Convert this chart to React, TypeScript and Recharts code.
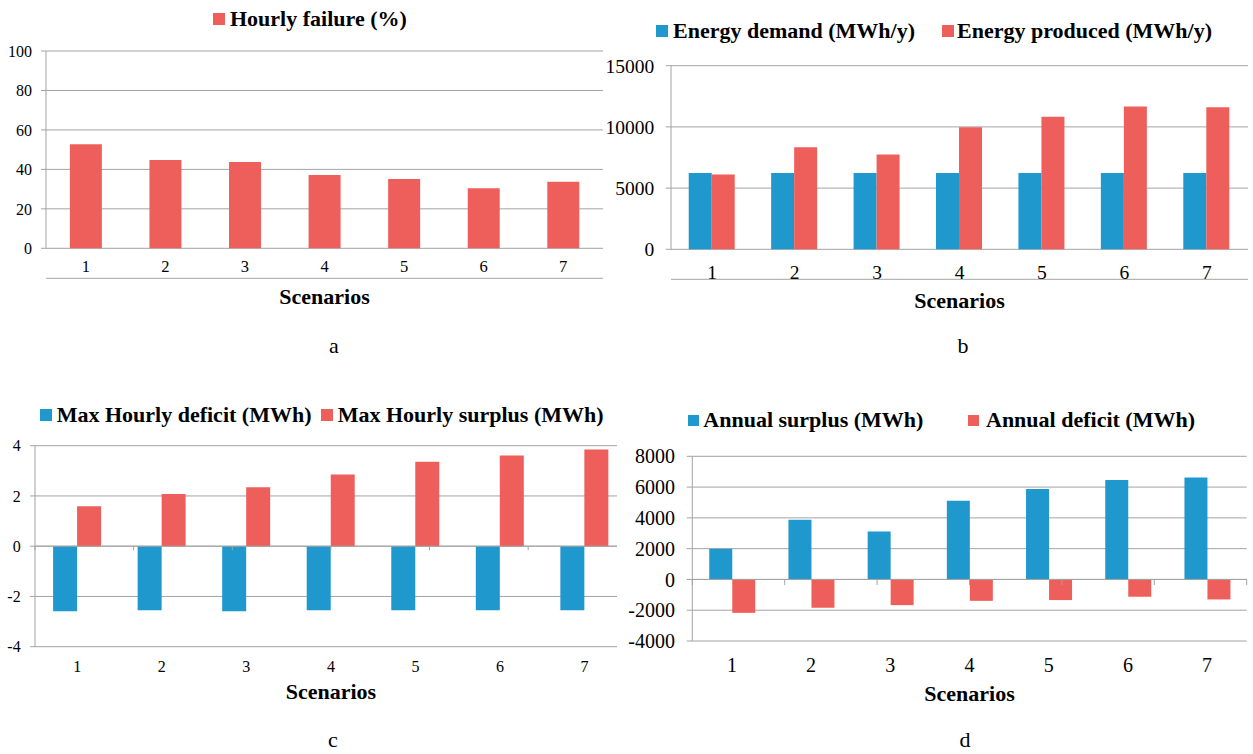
import React from 'react';
import { BarChart, Bar, XAxis, YAxis, CartesianGrid, ReferenceLine } from 'recharts';

const scenarios = ['1', '2', '3', '4', '5', '6', '7'];

const hourlyFailure = [52.8, 44.7, 43.7, 37.1, 35.1, 30.4, 33.7];

const energyDemand = [6230, 6230, 6230, 6230, 6230, 6230, 6230];
const energyProduced = [6110, 8340, 7750, 9980, 10820, 11660, 11600];

const maxHourlyDeficit = [-2.59, -2.55, -2.59, -2.55, -2.55, -2.55, -2.55];
const maxHourlySurplus = [1.59, 2.08, 2.35, 2.85, 3.36, 3.61, 3.85];

const annualSurplus = [1990, 3880, 3120, 5110, 5870, 6460, 6630];
const annualDeficit = [-2170, -1840, -1670, -1390, -1340, -1130, -1300];

const ticksA = [0, 20, 40, 60, 80, 100];
const ticksB = [0, 5000, 10000, 15000];
const ticksC = [-4, -2, 0, 2, 4];
const ticksD = [-4000, -2000, 0, 2000, 4000, 6000, 8000];

// category boundaries, where the tick marks sit
const edges = scenarios.map((_, i) => i).concat(scenarios.length);

const dataA = scenarios.map((name, i) => ({ name, failure: hourlyFailure[i] }));
const dataB = scenarios.map((name, i) => ({ name, demand: energyDemand[i], produced: energyProduced[i] }));
const dataC = scenarios.map((name, i) => ({ name, deficit: maxHourlyDeficit[i], surplus: maxHourlySurplus[i] }));
const dataD = scenarios.map((name, i) => ({ name, surplus: annualSurplus[i], deficit: annualDeficit[i] }));

const FONT = '"Liberation Serif", "Times New Roman", serif';
const RED = '#EE5F5B';
const BLUE = '#1F98CD';
const GRID = '#A3A3A3';
const TEXT = '#000';

type LegendItem = { label: string; color: string; sq: number; sqLeft: number; textLeft: number };

function ChartLegend({ top, items }: { top: number; items: LegendItem[] }) {
  return (
    <>
      {items.map((it) => (
        <React.Fragment key={it.label}>
          <div
            style={{
              position: 'absolute',
              left: it.sqLeft,
              top: top + 11 - it.sq / 2,
              width: it.sq,
              height: it.sq,
              background: it.color,
            }}
          />
          <div
            style={{
              position: 'absolute',
              left: it.textLeft,
              top,
              fontFamily: FONT,
              fontWeight: 'bold',
              fontSize: 22,
              lineHeight: '22px',
              color: '#000',
              whiteSpace: 'nowrap',
            }}
          >
            {it.label}
          </div>
        </React.Fragment>
      ))}
    </>
  );
}

function PanelLetter({ x, y, text }: { x: number; y: number; text: string }) {
  return (
    <div
      style={{
        position: 'absolute',
        left: x - 20,
        width: 40,
        top: y - 13.4,
        textAlign: 'center',
        fontFamily: FONT,
        fontSize: 22,
        lineHeight: '22px',
        color: '#000',
      }}
    >
      {text}
    </div>
  );
}

const scenLabel = (offset: number) => ({
  value: 'Scenarios',
  position: 'bottom' as const,
  offset,
  fill: '#000',
  fontSize: 22,
  fontWeight: 'bold',
  fontFamily: FONT,
});

export default function App() {
  return (
    <div style={{ position: 'absolute', left: 0, top: 0, width: 1253, height: 754, background: '#fff', overflow: 'hidden' }}>
      {/* a - hourly failure */}
      <ChartLegend top={8.4} items={[{ label: 'Hourly failure (%)', color: RED, sq: 12, sqLeft: 213, textLeft: 230 }]} />
      <div style={{ position: 'absolute', left: 0, top: 0 }}>
        <BarChart width={620} height={330} data={dataA} margin={{ top: 51, right: 17, bottom: 50.7, left: 0 }} barCategoryGap="30%">
          <CartesianGrid vertical={false} stroke={GRID} xAxisId="cat" />
          <XAxis xAxisId="edge" type="number" domain={[0, 7]} ticks={edges} tick={false} height={1} stroke={GRID} tickSize={5} allowDataOverflow />
          <XAxis
            xAxisId="cat"
            dataKey="name"
            height={30}
            axisLine={false}
            tickLine={false}
            tickSize={0}
            tickMargin={12.2}
            tick={{ fill: TEXT, fontSize: 16.5, fontFamily: FONT }}
            label={scenLabel(10.3)}
          />
          <YAxis domain={[0, 100]} ticks={ticksA} width={46} stroke={GRID} tickSize={5} tickMargin={9} tick={{ fill: TEXT, fontSize: 16, fontFamily: FONT }} />
          <Bar xAxisId="cat" dataKey="failure" fill={RED} isAnimationActive={false} />
        </BarChart>
      </div>
      <PanelLetter x={334} y={348} text="a" />

      {/* b - energy demand vs produced */}
      <ChartLegend
        top={20.1}
        items={[
          { label: 'Energy demand (MWh/y)', color: BLUE, sq: 11.5, sqLeft: 656, textLeft: 673 },
          { label: 'Energy produced (MWh/y)', color: RED, sq: 11.5, sqLeft: 942, textLeft: 957 },
        ]}
      />
      <div style={{ position: 'absolute', left: 600, top: 0 }}>
        <BarChart width={653} height={330} data={dataB} margin={{ top: 65.7, right: 5, bottom: 49.7, left: 0 }} barCategoryGap="21.5%" barGap={0}>
          <CartesianGrid vertical={false} stroke={GRID} xAxisId="cat" />
          <XAxis xAxisId="edge" type="number" domain={[0, 7]} ticks={edges} tick={false} height={1} stroke={GRID} tickSize={5.5} allowDataOverflow />
          <XAxis
            xAxisId="cat"
            dataKey="name"
            height={30}
            axisLine={false}
            tickLine={false}
            tickSize={0}
            tickMargin={15.4}
            tick={{ fill: TEXT, fontSize: 19.5, fontFamily: FONT }}
            label={scenLabel(13)}
          />
          <YAxis domain={[0, 15000]} ticks={ticksB} width={71} stroke={GRID} tickSize={5.3} tickMargin={11.5} tick={{ fill: TEXT, fontSize: 19.5, fontFamily: FONT }} />
          <Bar xAxisId="cat" dataKey="demand" fill={BLUE} isAnimationActive={false} />
          <Bar xAxisId="cat" dataKey="produced" fill={RED} isAnimationActive={false} />
        </BarChart>
      </div>
      <PanelLetter x={963} y={348} text="b" />

      {/* c - max hourly deficit / surplus */}
      <ChartLegend
        top={403.7}
        items={[
          { label: 'Max Hourly deficit (MWh)', color: BLUE, sq: 11.7, sqLeft: 40, textLeft: 56.7 },
          { label: 'Max Hourly surplus (MWh)', color: RED, sq: 11.7, sqLeft: 321, textLeft: 337.7 },
        ]}
      />
      <div style={{ position: 'absolute', left: 0, top: 390, width: 617, height: 330, overflow: 'hidden' }}>
        <BarChart width={640} height={330} data={dataC} margin={{ top: 55.7, right: 13.2, bottom: 43.3, left: 0 }} barCategoryGap="21.4%" barGap={0}>
          <CartesianGrid vertical={false} stroke={GRID} xAxisId="cat" />
          <XAxis xAxisId="edge" type="number" domain={[0, 7]} hide allowDataOverflow />
          <XAxis
            xAxisId="cat"
            dataKey="name"
            height={30}
            axisLine={false}
            tickLine={false}
            tickSize={0}
            tickMargin={14}
            tick={{ fill: TEXT, fontSize: 16, fontFamily: FONT }}
            label={scenLabel(6.6)}
          />
          <YAxis domain={[-4, 4]} ticks={ticksC} width={35} stroke={GRID} tickSize={5} tickMargin={9.3} tick={{ fill: TEXT, fontSize: 16, fontFamily: FONT }} />
          <ReferenceLine xAxisId="cat" y={0} stroke={GRID} />
          {edges.map((e) => (
            <ReferenceLine key={e} xAxisId="edge" segment={[{ x: e, y: 0 }, { x: e, y: -0.16 }]} stroke={GRID} />
          ))}
          <Bar xAxisId="cat" dataKey="deficit" fill={BLUE} isAnimationActive={false} />
          <Bar xAxisId="cat" dataKey="surplus" fill={RED} isAnimationActive={false} />
        </BarChart>
      </div>
      <PanelLetter x={333} y={742} text="c" />

      {/* d - annual surplus / deficit */}
      <ChartLegend
        top={409.4}
        items={[
          { label: 'Annual surplus (MWh)', color: BLUE, sq: 11, sqLeft: 687.7, textLeft: 703.3 },
          { label: 'Annual deficit (MWh)', color: RED, sq: 11, sqLeft: 968, textLeft: 986 },
        ]}
      />
      <div style={{ position: 'absolute', left: 618, top: 390 }}>
        <BarChart width={635} height={330} data={dataD} margin={{ top: 66.3, right: 6.3, bottom: 49, left: 0 }} barCategoryGap="21.4%" barGap={0}>
          <CartesianGrid vertical={false} stroke={GRID} xAxisId="cat" />
          <XAxis xAxisId="edge" type="number" domain={[0, 7]} hide allowDataOverflow />
          <XAxis
            xAxisId="cat"
            dataKey="name"
            height={30}
            axisLine={false}
            tickLine={false}
            tickSize={0}
            tickMargin={16.5}
            tick={{ fill: TEXT, fontSize: 20, fontFamily: FONT }}
            label={scenLabel(14.6)}
          />
          <YAxis domain={[-4000, 8000]} ticks={ticksD} width={74.3} stroke={GRID} tickSize={5.6} tickMargin={11.7} tick={{ fill: TEXT, fontSize: 20, fontFamily: FONT }} />
          <ReferenceLine xAxisId="cat" y={0} stroke={GRID} />
          {edges.map((e) => (
            <ReferenceLine key={e} xAxisId="edge" segment={[{ x: e, y: 0 }, { x: e, y: -360 }]} stroke={GRID} />
          ))}
          <Bar xAxisId="cat" dataKey="surplus" fill={BLUE} isAnimationActive={false} />
          <Bar xAxisId="cat" dataKey="deficit" fill={RED} isAnimationActive={false} />
        </BarChart>
      </div>
      <PanelLetter x={965} y={742} text="d" />
    </div>
  );
}
